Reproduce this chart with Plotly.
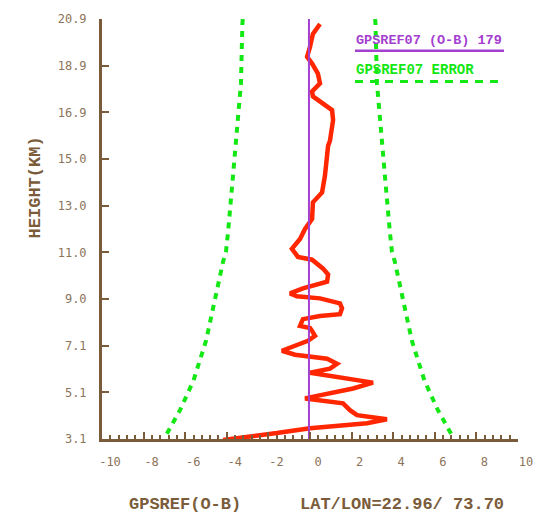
import plotly.graph_objects as go

# ---- data ----
ytick_labels = ["3.1", "5.1", "7.1", "9.0", "11.0", "13.0", "15.0", "16.9", "18.9", "20.9"]
y_min, y_max = 3.1, 20.9
xtick_vals = [-10, -8, -6, -4, -2, 0, 2, 4, 6, 8, 10]

mean_ob = -0.05  # GPSREF07 (O-B) mean, 179 obs

ob_height = [20.69, 20.27, 19.72, 19.30, 19.01, 18.59, 18.17, 17.83, 17.62, 17.33,
             17.04, 16.62, 16.20, 15.74, 15.53, 14.94, 14.27, 13.55, 13.13, 12.42,
             12.00, 11.58, 11.16, 10.82, 10.70, 10.32, 10.07, 9.77, 9.48, 9.27,
             9.15, 9.06, 8.85, 8.64, 8.39, 8.31, 8.18, 7.89, 7.80, 7.68,
             7.47, 7.26, 6.96, 6.84, 6.67, 6.58, 6.50, 6.29, 6.08, 5.91,
             5.70, 5.49, 5.24, 4.95, 4.82, 4.61, 4.32, 4.11, 3.94, 3.77,
             3.69, 3.56, 3.35, 3.18, 3.06]
ob_value = [0.48, 0.14, 0.00, -0.14, 0.10, 0.38, 0.48, 0.10, 0.14, 0.63,
            1.06, 1.11, 1.06, 0.96, 0.87, 0.82, 0.72, 0.58, 0.14, 0.10,
            -0.24, -0.48, -0.87, -0.58, 0.10, 0.63, 0.87, 0.82, -0.34, -0.96,
            -0.63, 0.48, 1.44, 1.54, 1.44, 0.48, -0.34, -0.48, 0.00, 0.10,
            0.24, -0.10, -0.96, -1.35, -0.72, 0.00, 0.82, 1.30, 0.96, 0.00,
            1.59, 3.03, 2.07, 0.63, -0.24, 1.59, 1.92, 2.26, 3.70, 2.74,
            1.59, 0.00, -1.59, -3.22, -4.18]

err_height = [20.9, 20.69, 18.17, 16.07, 13.97, 11.87, 11.03, 10.61, 8.94, 7.26, 5.58, 4.32, 3.18, 3.1]
err_value = [3.18, 3.20, 3.27, 3.46, 3.68, 3.89, 3.99, 4.13, 4.52, 4.95, 5.55, 6.20, 6.92, 6.97]

brown = "rgb(122,92,58)"
label_col = "rgb(140,116,90)"
green = "rgb(20,232,20)"
red = "rgb(255,38,0)"
purple = "rgb(164,64,208)"

ytick_vals = [y_min + k * (y_max - y_min) / 9 for k in range(10)]

fig = go.Figure()

fig.add_trace(go.Scatter(x=[mean_ob - e for e in err_value], y=err_height, mode="lines",
                         line=dict(color=green, width=4, dash="6px,6px"), hoverinfo="skip"))
fig.add_trace(go.Scatter(x=[mean_ob + e for e in err_value], y=err_height, mode="lines",
                         line=dict(color=green, width=4, dash="6px,6px"), hoverinfo="skip"))
fig.add_trace(go.Scatter(x=ob_value, y=ob_height, mode="lines",
                         line=dict(color=red, width=4.5), hoverinfo="skip"))
fig.add_trace(go.Scatter(x=[mean_ob, mean_ob], y=[y_min, y_max], mode="lines",
                         line=dict(color=purple, width=2), hoverinfo="skip"))

W, H = 549, 519
L, R, T, B = 102, 518, 15, 439


def px(x):
    return (x - L) / (R - L)


def py(y):
    return (B - y) / (B - T)


fig.update_layout(
    width=W, height=H,
    margin=dict(l=L, r=W - R, t=T, b=H - B),
    plot_bgcolor="white", paper_bgcolor="white",
    showlegend=False,
    xaxis=dict(range=[-10, 10], tickvals=xtick_vals,
               ticktext=[str(v) for v in xtick_vals],
               ticks="inside", ticklen=7, tickwidth=2, tickcolor=brown,
               showline=True, linecolor=brown, linewidth=3,
               showgrid=False, zeroline=False,
               tickfont=dict(family="DejaVu Sans Mono", size=12, color=label_col),
               ticklabelstandoff=10, ticklabelshift=8,
               minor=dict(dtick=0.4, tick0=-10, ticks="inside", ticklen=4, tickwidth=2,
                          tickcolor=brown, showgrid=False)),
    yaxis=dict(range=[y_min, y_max], tickvals=ytick_vals, ticktext=ytick_labels,
               ticks="inside", ticklen=7, tickwidth=2, tickcolor=brown,
               showline=True, linecolor=brown, linewidth=3,
               showgrid=False, zeroline=False,
               tickfont=dict(family="DejaVu Sans Mono", size=12, color=label_col),
               ticklabelstandoff=10),
)

title_font = dict(family="Liberation Mono", size=17, color=brown)
fig.add_annotation(text="<b>HEIGHT(KM)</b>", xref="paper", yref="paper",
                   x=px(35), y=py(185), xanchor="center", yanchor="middle",
                   textangle=-90, showarrow=False, font=title_font)
fig.add_annotation(text="<b>GPSREF(O-B)</b>", xref="paper", yref="paper",
                   x=px(185), y=py(505), xanchor="center", yanchor="middle",
                   showarrow=False, font=title_font)
fig.add_annotation(text="<b>LAT/LON=22.96/ 73.70</b>", xref="paper", yref="paper",
                   x=px(402), y=py(505), xanchor="center", yanchor="middle",
                   showarrow=False, font=title_font)

# legend
fig.add_annotation(text="<b>GPSREF07 (O-B) 179</b>", xref="paper", yref="paper",
                   x=px(354), y=py(37), xanchor="left", yanchor="middle", showarrow=False,
                   font=dict(family="Liberation Mono", size=13.5, color=purple))
fig.add_shape(type="line", xref="paper", yref="paper", x0=px(355), x1=px(504),
              y0=py(47), y1=py(47), line=dict(color=purple, width=2.5))
fig.add_annotation(text="<b>GPSREF07 ERROR</b>", xref="paper", yref="paper",
                   x=px(354), y=py(66), xanchor="left", yanchor="middle", showarrow=False,
                   font=dict(family="Liberation Mono", size=14, color=green))
fig.add_shape(type="line", xref="paper", yref="paper", x0=px(355), x1=px(504),
              y0=py(78), y1=py(78), line=dict(color=green, width=3, dash="8px,7px"))

fig.write_html("out.html")
